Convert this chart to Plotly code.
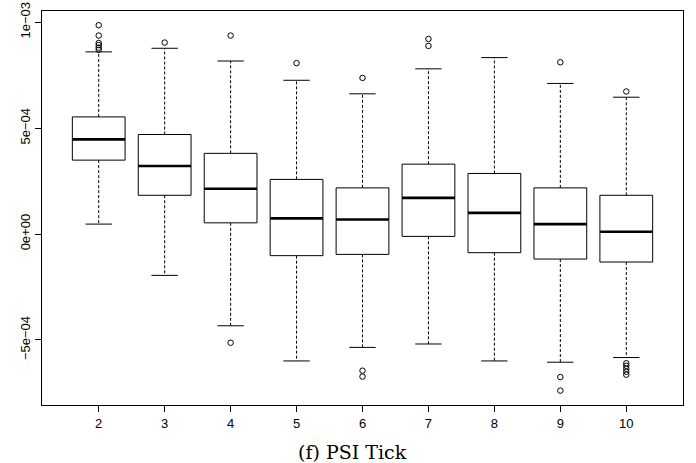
import plotly.graph_objects as go

# ---- data ----
categories = [2, 3, 4, 5, 6, 7, 8, 9, 10]
lower_whisker = [0.47e-4, -1.95e-4, -4.33e-4, -5.99e-4, -5.35e-4, -5.19e-4, -5.99e-4, -6.05e-4, -5.83e-4]
q1 = [3.49e-4, 1.83e-4, 0.53e-4, -1.02e-4, -0.96e-4, -0.11e-4, -0.88e-4, -1.18e-4, -1.32e-4]
median = [4.47e-4, 3.21e-4, 2.14e-4, 0.74e-4, 0.69e-4, 1.71e-4, 1.00e-4, 0.47e-4, 0.11e-4]
q3 = [5.53e-4, 4.70e-4, 3.81e-4, 2.58e-4, 2.18e-4, 3.30e-4, 2.86e-4, 2.18e-4, 1.83e-4]
upper_whisker = [8.60e-4, 8.77e-4, 8.17e-4, 7.26e-4, 6.62e-4, 7.80e-4, 8.33e-4, 7.11e-4, 6.46e-4]
outliers = {
    2: [9.86e-4, 9.37e-4, 9.02e-4, 8.92e-4, 8.80e-4, 8.70e-4],
    3: [9.04e-4],
    4: [9.37e-4, -5.13e-4],
    5: [8.07e-4],
    6: [7.37e-4, -6.45e-4, -6.73e-4],
    7: [9.21e-4, 8.88e-4],
    8: [],
    9: [8.11e-4, -6.75e-4, -7.39e-4],
    10: [6.73e-4, -6.10e-4, -6.22e-4, -6.36e-4, -6.50e-4, -6.64e-4],
}
y_tick_vals = [-5e-4, 0, 5e-4, 1e-3]
y_tick_text = ["\u22125e\u221204", "0e+00", "5e\u221204", "1e\u221203"]
title_text = "(f) PSI Tick"

half_box = 0.4
half_cap = 0.2

# ---- build geometry from the data ----
bx, by, mx, my, wx, wy, cx, cy, ox, oy = [], [], [], [], [], [], [], [], [], []
for i, c in enumerate(categories):
    bx += [c - half_box, c + half_box, c + half_box, c - half_box, c - half_box, None]
    by += [q1[i], q1[i], q3[i], q3[i], q1[i], None]
    mx += [c - half_box, c + half_box, None]
    my += [median[i], median[i], None]
    wx += [c, c, None, c, c, None]
    wy += [q3[i], upper_whisker[i], None, q1[i], lower_whisker[i], None]
    cx += [c - half_cap, c + half_cap, None, c - half_cap, c + half_cap, None]
    cy += [upper_whisker[i], upper_whisker[i], None, lower_whisker[i], lower_whisker[i], None]
    for v in outliers[c]:
        ox.append(c)
        oy.append(v)

fig = go.Figure()
fig.add_trace(go.Scatter(x=wx, y=wy, mode="lines", line=dict(color="black", width=1, dash="3px,2px"), hoverinfo="skip"))
fig.add_trace(go.Scatter(x=cx, y=cy, mode="lines", line=dict(color="black", width=1), hoverinfo="skip"))
fig.add_trace(go.Scatter(x=bx, y=by, mode="lines", fill="toself", fillcolor="white", line=dict(color="black", width=1), hoverinfo="skip"))
fig.add_trace(go.Scatter(x=mx, y=my, mode="lines", line=dict(color="black", width=2.6), hoverinfo="skip"))
fig.add_trace(go.Scatter(x=ox, y=oy, mode="markers",
                         marker=dict(symbol="circle-open", size=5.5, color="black", line=dict(width=1)),
                         hoverinfo="skip"))

font_family = "Liberation Sans, Arial, sans-serif"
fig.update_layout(
    width=696, height=463,
    margin=dict(l=41.5, r=12.7, t=10.7, b=58, autoexpand=False),
    paper_bgcolor="white", plot_bgcolor="white",
    showlegend=False,
    font=dict(family=font_family, size=13, color="black"),
    xaxis=dict(range=[1.14, 10.86], tickvals=categories, ticktext=[str(c) for c in categories],
               showgrid=False, zeroline=False, showline=True, mirror=True, linecolor="black", linewidth=1,
               ticks="outside", ticklen=6, tickcolor="black", tickwidth=1, automargin=False,
               tickfont=dict(size=13, color="black")),
    yaxis=dict(range=[-8.07e-4, 10.53e-4], tickvals=y_tick_vals, ticktext=y_tick_text,
               showgrid=False, zeroline=False, showline=True, mirror=True, linecolor="black", linewidth=1,
               ticks="outside", ticklen=6, tickcolor="black", tickwidth=1, tickangle=-90, automargin=False,
               tickfont=dict(size=13, color="black")),
    annotations=[dict(text=title_text, xref="paper", yref="paper", x=0.4838, y=-0.1205,
                      xanchor="center", yanchor="middle", showarrow=False,
                      font=dict(family="DejaVu Serif, Liberation Serif, serif", size=19, color="black"))],
)

fig.write_html("out.html", config={"displayModeBar": False},
               post_script="document.body.style.margin='0';document.body.style.overflow='hidden';")
